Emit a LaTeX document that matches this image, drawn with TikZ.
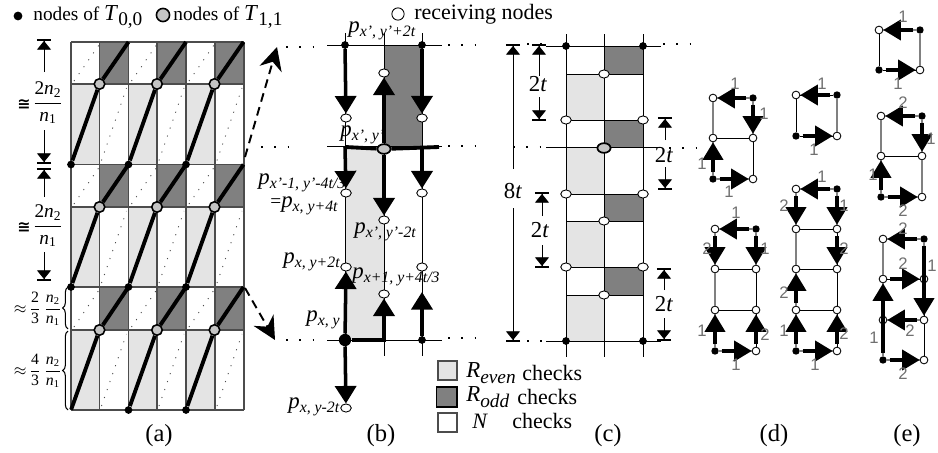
\documentclass[tikz,border=0pt]{standalone}
\usepackage{amsmath, amssymb}
\usepackage{fontspec}
\setmainfont{Liberation Serif}
\setsansfont{Liberation Sans}
\newfontfamily\symfont{DejaVu Sans}
\usepackage{tikz}
\usetikzlibrary{arrows.meta, shapes.geometric, decorations.pathreplacing}
\definecolor{lightcell}{HTML}{E4E4E4}
\definecolor{darkcell}{HTML}{808080}
\definecolor{midnode}{HTML}{C4C4C4}
\definecolor{numgray}{HTML}{707070}
\newcommand{\psub}[1]{{\fontsize{13}{14}\selectfont\textit{p}}\raisebox{-0.45ex}{\fontsize{9}{10}\selectfont\textit{#1}}}
\newcommand{\tsub}[1]{{\fontsize{13}{14}\selectfont\textit{T}}\raisebox{-0.6ex}{\fontsize{11}{12}\selectfont #1}}
\newcommand{\nfrac}[2]{$\dfrac{\text{#1}}{\text{#2}}$}
\newcommand{\nn}[1]{\textit{n}\textsubscript{#1}}
\newcommand{\rsub}[1]{{\fontsize{13}{14}\selectfont\textit{R}}\raisebox{-0.6ex}{\fontsize{11}{12}\selectfont\textit{#1}}}

\begin{document}
\begin{tikzpicture}[x=0.02cm, y=-0.02cm,
        every node/.style={font=\fontsize{11}{13}\selectfont},
        blackdot/.style={circle, fill=black, inner sep=0pt, minimum size=4.4pt},
        bigdot/.style={circle, fill=black, inner sep=0pt, minimum size=7pt},
        minidot/.style={circle, fill=black, inner sep=0pt, minimum size=4.2pt},
        graydot/.style={circle, draw=black, line width=0.9pt, fill=midnode, inner sep=0pt, minimum size=6pt},
        grayoval/.style={ellipse, draw=black, line width=1pt, fill=midnode, inner sep=0pt, minimum width=7.5pt, minimum height=5.5pt},
        whiteoval/.style={ellipse, draw=black, line width=0.5pt, fill=white, inner sep=0pt, minimum width=6pt, minimum height=4.6pt},
        minioval/.style={circle, draw=black, line width=0.5pt, fill=white, inner sep=0pt, minimum size=4.4pt},
        endpt/.style={inner sep=0pt, minimum size=0pt},
        rail/.style={line width=2.2pt},
        gridline/.style={line width=0.6pt, color=black!70},
        thinline/.style={line width=0.5pt, color=black},
        grayline/.style={line width=0.9pt, color=black!50},
        dotline/.style={line width=0.5pt, color=black!70, dash pattern=on 0.6pt off 4.2pt},
        farline/.style={line width=1pt, dash pattern=on 1pt off 6.6pt},
        hv/.style={-{Triangle[length=10pt, width=12pt]}, line width=2pt},
        hvm/.style={-{Triangle[length=10pt, width=11.5pt]}, line width=1.9pt, shorten <=1.5pt},
        dimarr/.style={-{Triangle[length=5pt, width=8pt, sep=0pt]Bar[width=8pt, line width=1.1pt]}, line width=0.5pt},
        zoomarr/.style={-{Stealth[length=13pt, width=13pt]}, line width=1.1pt, dash pattern=on 5pt off 3.2pt},
        numlbl/.style={font=\sffamily\fontsize{9.5}{11}\selectfont, color=numgray, inner sep=0pt},
        figlbl/.style={font=\fontsize{14}{16}\selectfont, inner sep=0pt},
        plbl/.style={inner sep=0pt, anchor=west},
        dimlbl/.style={font=\fontsize{13}{15}\selectfont, inner sep=0pt},
        leglbl/.style={plbl, font=\fontsize{12.5}{14}\selectfont},
        conglbl/.style={inner sep=0pt, font=\symfont\bfseries\fontsize{9}{10}\selectfont}]

      \useasboundingbox (0,0) rectangle (938,453);

      % header
      \node[blackdot, minimum size=5pt] (keyBlack) at (18,16) {};
      \node[plbl] (keyBlackTxt) at (33,17) {nodes of \tsub{0,0}};
      \node[graydot, minimum size=7.5pt] (keyGray) at (163,15) {};
      \node[plbl] (keyGrayTxt) at (173,17) {nodes of \tsub{1,1}};
      \node[whiteoval, circle, minimum size=7pt] (keyWhite) at (398,14) {};
      \node[leglbl] (keyWhiteTxt) at (414,14) {receiving nodes};

      % panel a
      \foreach \y/\h in {42/84, 164.5/207, 287/330} {
        \foreach \x in {99.5, 157, 215}
          \fill[darkcell] (\x,\y) rectangle ({\x+29},\h);
        \foreach \x in {71, 128.5, 186}
          \draw[dotline] ({\x+3},{\h-3}) -- ({\x+28},{\y+3});
      }
      \foreach \y/\h in {84/164.5, 207/287, 330/410} {
        \foreach \x in {71, 128.5, 186}
          \fill[lightcell] (\x,\y) rectangle ({\x+28.5},\h);
        \foreach \x in {99.5, 157, 215}
          \draw[dotline] ({\x+2},{\h-4}) -- ({\x+27},{\y+4});
      }
      \foreach \x in {71, 99.5, 128.5, 157, 186, 215, 244}
        \draw[gridline] (\x,42) -- (\x,410);
      \foreach \y in {42, 84, 164.5, 207, 287, 330, 410}
        \draw[gridline] (71,\y) -- (244,\y);

      \foreach \c/\x in {0/71, 1/128.5, 2/186}
        \foreach \r/\yb/\ym/\yt in {0/164.5/84/42, 1/287/207/164.5, 2/410/330/287} {
          \def\dotstyle{blackdot}
          \ifnum\c\r=2 \def\dotstyle{endpt}\fi
          \node[\dotstyle] (aB\c\r) at (\x,\yb) {};
          \node[graydot] (aG\c\r) at ({\x+28.5},\ym) {};
          \coordinate (aT\c\r) at ({\x+57.5},\yt);
          \draw[rail] (aB\c\r) -- (aG\c\r);
          \draw[rail] (aG\c\r) -- (aT\c\r);
        }

      \foreach \n/\x/\ya/\yb in {aDa/44/72/39, aDb/44/130/164, aDc/44/197/168, aDd/44/252/281} {
        \coordinate (\n s) at (\x,\ya);
        \coordinate (\n e) at (\x,\yb);
        \draw[dimarr] (\n s) -- (\n e);
      }
      \node[conglbl] (aCa) at (24,105) {≅};
      \node[inner sep=0pt] (aFa) at (48,103) {\nfrac{2\nn{2}}{\nn{1}}};
      \node[conglbl] (aCb) at (24,228) {≅};
      \node[inner sep=0pt] (aFb) at (48,226) {\nfrac{2\nn{2}}{\nn{1}}};
      \node[inner sep=0pt, font=\fontsize{9}{10}\selectfont] (aFc) at (38,309) {$\approx$\,\nfrac{2}{3}\,\nfrac{\nn{2}}{\nn{1}}};
      \node[inner sep=0pt, font=\fontsize{9}{10}\selectfont] (aFd) at (38,371) {$\approx$\,\nfrac{4}{3}\,\nfrac{\nn{2}}{\nn{1}}};
      \coordinate (aBa) at (68,329);
      \coordinate (aBb) at (68,287);
      \coordinate (aBc) at (68,410);
      \coordinate (aBd) at (68,331);
      \draw[decorate, decoration={brace, amplitude=3pt}, line width=0.6pt] (aBa) -- (aBb);
      \draw[decorate, decoration={brace, amplitude=3pt}, line width=0.6pt] (aBc) -- (aBd);

      % zoom arrows
      \coordinate (zoomUpS) at (245,157);
      \coordinate (zoomUpE) at (277,47);
      \coordinate (zoomDnS) at (245,288);
      \coordinate (zoomDnE) at (275,340);
      \draw[zoomarr] (zoomUpS) -- (zoomUpE);
      \draw[zoomarr] (zoomDnS) -- (zoomDnE);

      % panel b
      \fill[darkcell] (384,45) rectangle (422,146.5);
      \fill[lightcell] (345,146.5) rectangle (384,340);
      \foreach \x in {345, 384, 422}
        \draw[thinline] (\x,33) -- (\x,356);
      \foreach \y in {45, 146.5, 340}
        \draw[thinline] (327,\y) -- (442,\y);
      \foreach \n/\x/\y/\s in {bA/345/45/blackdot, bB/422/45/blackdot,
            bC/346/118/whiteoval, bD/422/118/whiteoval, bE/384/73/whiteoval,
            bF/346/193/whiteoval, bG/422/193/whiteoval, bH/384/220/whiteoval,
            bI/346/267/whiteoval, bJ/422/267/whiteoval, bK/384/294/whiteoval,
            bL/346/408/whiteoval, bM/384/149/grayoval, bN/345/340/bigdot,
            bO/422/340/blackdot}
        \node[\s] (\n) at (\x,\y) {};
      \coordinate (bP) at (345,147);
      \coordinate (bQ) at (422,147);
      \coordinate (bR) at (439,147);
      \coordinate (bS) at (422,292);
      \draw[rail] (bP) -- (bM);
      \draw[rail] (bM) -- (bR);
      \foreach \a/\b in {bA/bC, bB/bD, bM/bE, bP/bF, bQ/bG, bM/bH, bN/bI, bO/bS, bN/bL}
        \draw[hv] (\a) -- (\b);
      \draw[hv] (bN) -| (bK);

      \node[plbl] (bTa) at (348,31) {\psub{x', y'+2t}};
      \node[plbl] (bTb) at (340,135) {\psub{x', y'}};
      \node[plbl] (bTc) at (258,183) {\psub{x'-1, y'-4t/3}};
      \node[plbl] (bTd) at (270,206) {=\psub{x, y+4t}};
      \node[plbl] (bTe) at (354,232) {\psub{x', y'-2t}};
      \node[plbl] (bTf) at (283,262) {\psub{x, y+2t}};
      \node[plbl] (bTg) at (352,277) {\psub{x+1, y+4t/3}};
      \node[plbl] (bTh) at (306,320) {\psub{x, y}};
      \node[plbl] (bTi) at (288,407) {\psub{x, y-2t}};

      % far dots
      \foreach \n/\xa/\xb/\y in {fa/286/314/47, fb/261/289/147, fc/286/314/340,
            fd/448/476/45, fe/448/476/146, ff/448/476/338,
            fg/527/545/44, fh/513/545/147, fi/527/547/341,
            fj/663/691/44, fk/669/697/148} {
        \coordinate (\n s) at (\xa,\y);
        \coordinate (\n e) at (\xb,\y);
        \draw[farline] (\n s) -- (\n e);
      }

      % legend
      \draw[gridline, fill=lightcell] (438,361) rectangle (457,380);
      \draw[line width=0.7pt, color=black, fill=darkcell] (436.5,387) rectangle (457,407);
      \draw[gridline, fill=white] (438,413) rectangle (457,432);
      \node[leglbl] (legA) at (466,373) {\rsub{even}};
      \node[leglbl] (legAt) at (522,373) {checks};
      \node[leglbl] (legB) at (466,397) {\rsub{odd}};
      \node[leglbl] (legBt) at (517,397) {checks};
      \node[leglbl] (legC) at (472,421) {\textit{N}};
      \node[leglbl] (legCt) at (512,421) {checks};

      % panel c
      \foreach \y/\h in {46/74, 120/147, 194/221, 267/295}
        \fill[darkcell] (604,\y) rectangle (643,\h);
      \foreach \y/\h in {74/120, 147/194, 221/267, 295/341}
        \fill[lightcell] (566,\y) rectangle (604,\h);
      \foreach \x in {566, 604, 643}
        \draw[thinline] (\x,34) -- (\x,357);
      \foreach \y in {74, 120, 194, 221, 267, 295}
        \draw[thinline] (566,\y) -- (643,\y);
      \foreach \y in {46, 147, 341}
        \draw[thinline] (546,\y) -- (661,\y);
      \foreach \n/\x/\y/\s in {cA/566/46/blackdot, cB/643/46/blackdot, cC/566/341/blackdot,
            cD/643/341/blackdot, cE/604/74/whiteoval, cF/566/120/whiteoval,
            cG/643/120/whiteoval, cH/566/194/whiteoval, cI/643/194/whiteoval,
            cJ/604/221/whiteoval, cK/566/267/whiteoval, cL/643/267/whiteoval,
            cM/604/295/whiteoval, cN/604/148/grayoval}
        \node[\s] (\n) at (\x,\y) {};

      \node[dimlbl] (cTa) at (513,191) {8\textit{t}};
      \node[dimlbl] (cTb) at (538,84) {2\textit{t}};
      \node[dimlbl] (cTc) at (664,155) {2\textit{t}};
      \node[dimlbl] (cTd) at (540,230) {2\textit{t}};
      \node[dimlbl] (cTe) at (664,304) {2\textit{t}};
      \foreach \n/\x/\ya/\yb in {cDa/513/169/44, cDb/513/208/342, cDc/539/76/44,
            cDd/539/97/121, cDe/665/140/117, cDf/665/167/190, cDg/542/216/192,
            cDh/542/245/268, cDi/664/290/268, cDj/664/318/341} {
        \coordinate (\n s) at (\x,\ya);
        \coordinate (\n e) at (\x,\yb);
        \draw[dimarr] (\n s) -- (\n e);
      }

      % panels d and e, nodes
      \foreach \n/\x/\y/\s in {
            daA/713/98/minioval, daB/753/98/minidot, daC/713/138/minioval, daD/753/138/minioval,
            daE/713/179/minidot, daF/753/179/minioval,
            dbA/796/95/minioval, dbB/837/95/minidot, dbC/796/136/minidot, dbD/837/136/minioval,
            dcA/715/229/minioval, dcB/756/229/minidot, dcC/715/269/minioval, dcD/756/269/minioval,
            dcE/715/310/minioval, dcF/756/310/minioval, dcG/715/351/minidot, dcH/756/351/minioval,
            ddA/796/189/minioval, ddB/837/189/minidot, ddC/796/229/minioval, ddD/837/229/minioval,
            ddE/796/269/minioval, ddF/837/269/minioval, ddG/796/310/minioval, ddH/837/310/minioval,
            ddI/796/351/minidot, ddJ/837/351/minioval,
            eaA/879/30/minioval, eaB/920/30/minidot, eaC/879/70/minidot, eaD/920/70/minioval,
            ebA/881/116/minioval, ebB/922/116/minidot, ebC/881/156/minioval, ebD/922/156/minioval,
            ebE/881/197/minidot, ebF/922/197/minioval,
            ecA/883/239/minioval, ecB/924/239/minidot, ecC/883/279/minioval, ecD/924/279/minioval,
            ecE/883/320/minioval, ecF/924/320/minioval, ecG/883/360/minidot, ecH/924/360/minioval}
        \node[\s] (\n) at (\x,\y) {};

      % panels d and e, edges
      \foreach \a/\b in {daA/daB, daA/daC, daB/daD, daC/daE, daE/daF,
            dcA/dcB, dcA/dcC, dcC/dcE, dcE/dcG, dcG/dcH, dcB/dcD,
            ddA/ddB, ddA/ddC, ddC/ddE, ddE/ddG, ddG/ddI, ddI/ddJ, ddB/ddD,
            ebA/ebB, ebA/ebC, ebC/ebE, ebE/ebF, ebB/ebD,
            ecA/ecB, ecA/ecC, ecC/ecE, ecE/ecG, ecG/ecH, ecB/ecD, ecE/ecF,
            eaA/eaB, ebD/ebF, dbB/dbD, eaB/eaD}
        \draw[grayline] (\a) -- (\b);
      \foreach \a/\b in {daC/daD, daD/daF, dbA/dbB, dbA/dbC, dbC/dbD, dcC/dcD, dcD/dcF,
            dcE/dcF, dcF/dcH, ddC/ddD, ddD/ddF, ddE/ddF, ddF/ddH, ddG/ddH, ddH/ddJ,
            eaA/eaC, eaC/eaD, ebC/ebD, ecC/ecD, ecD/ecF, ecF/ecH}
        \draw[thinline] (\a) -- (\b);

      % panels d and e, arrows
      \foreach \a/\b in {daB/daA, daB/daD, daE/daC, daE/daF, dbB/dbA, dbC/dbD,
            dcB/dcA, dcA/dcC, dcB/dcD, dcG/dcE, dcH/dcF, dcG/dcH,
            ddB/ddA, ddA/ddC, ddB/ddD, ddD/ddF, ddG/ddE, ddI/ddG, ddJ/ddH, ddI/ddJ,
            eaB/eaA, eaC/eaD, ebB/ebA, ebB/ebD, ebE/ebC, ebE/ebF,
            ecB/ecA, ecC/ecD, ecB/ecF, ecF/ecE, ecG/ecC, ecG/ecH}
        \draw[hvm] (\a) -- (\b);

      % panels d and e, weights
      \foreach \x/\y/\t [count=\i] in {735/84/1, 764/114/1, 702/164/1, 729/192/1,
            822/84/1, 814/150/1, 736/213/1, 707/249/2, 765/249/1, 702/331/1, 765/335/2,
            736/365/1, 822/177/1, 784/206/2, 844/206/1, 844/249/2, 784/293/2, 784/331/1,
            844/334/2, 815/365/1, 903/17/1, 898/84/1, 903/103/2, 931/139/1, 873/175/1,
            903/211/2, 903/229/2, 903/264/2, 932/266/1, 910/331/2, 874/338/1, 903/374/2}
        \node[numlbl] (num\i) at (\x,\y) {\t};

      % captions
      \node[figlbl] (capA) at (159,436) {(a)};
      \node[figlbl] (capB) at (381,436) {(b)};
      \node[figlbl] (capC) at (608,436) {(c)};
      \node[figlbl] (capD) at (774,436) {(d)};
      \node[figlbl] (capE) at (907,436) {(e)};
    \end{tikzpicture}
\end{document}
